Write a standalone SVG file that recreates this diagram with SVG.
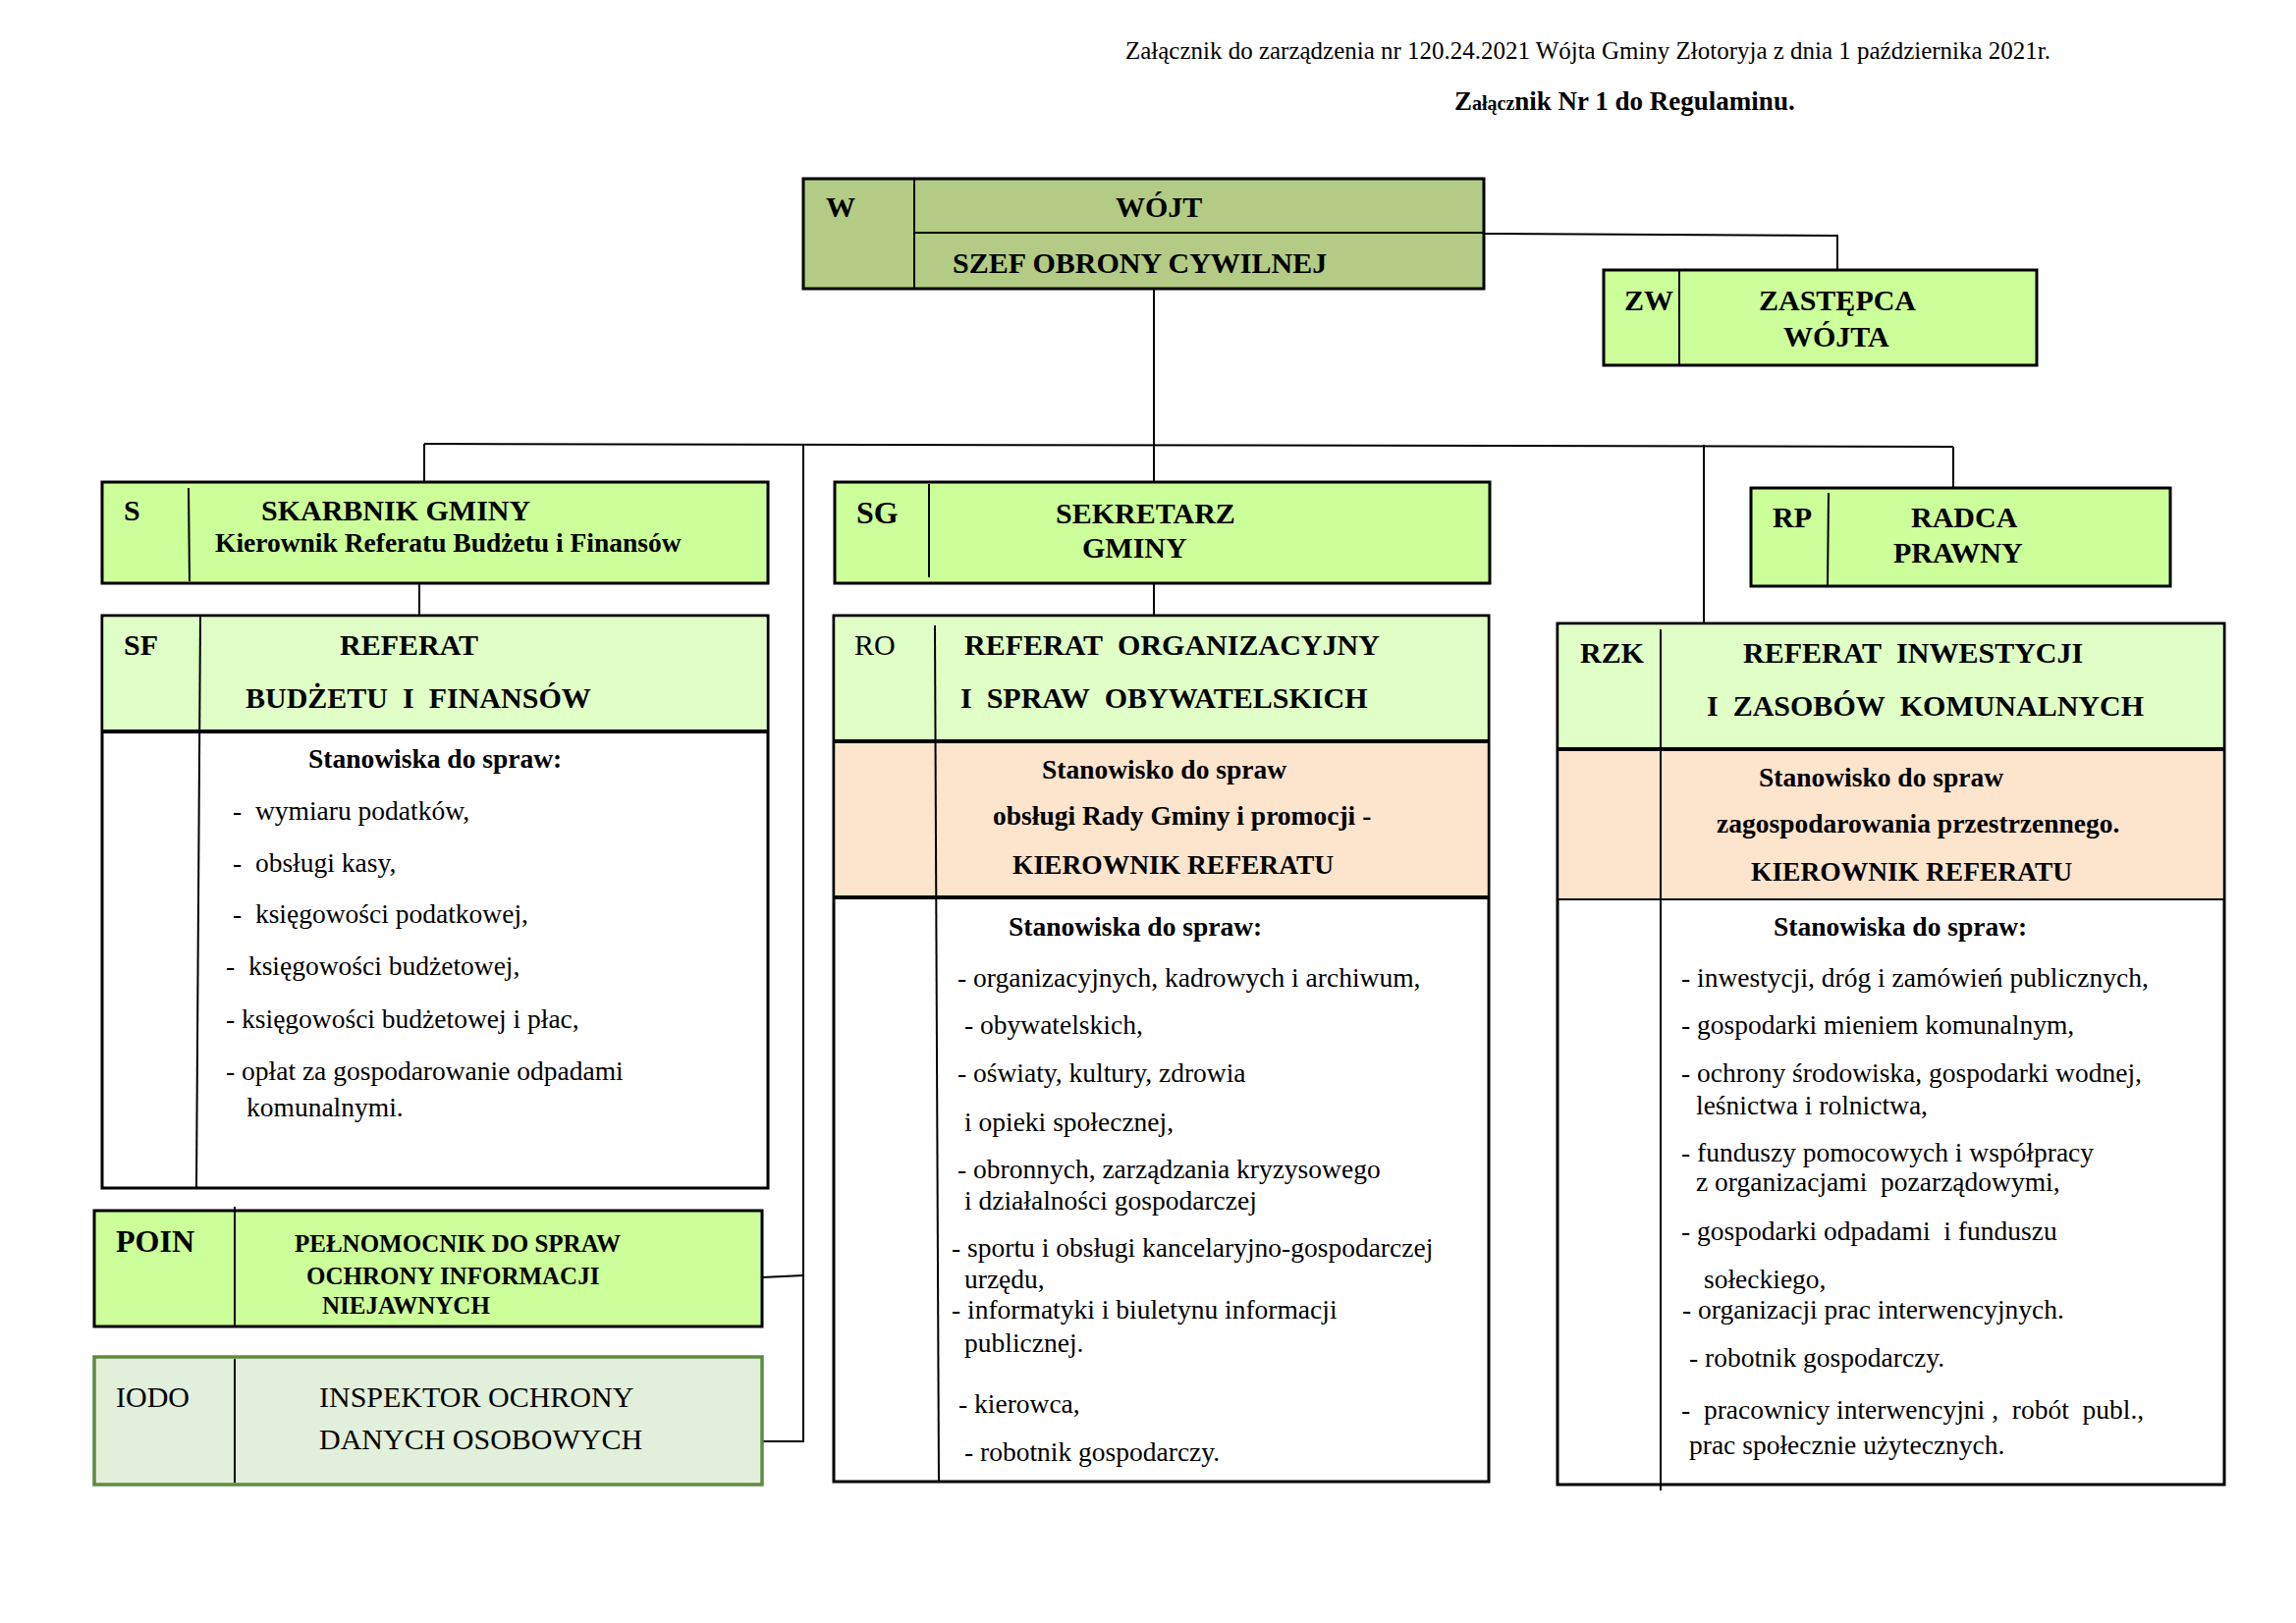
<svg xmlns="http://www.w3.org/2000/svg" width="2338" height="1653" viewBox="0 0 2338 1653">
<style>
text{font-family:"Liberation Serif","Times New Roman",serif;fill:#000;white-space:pre}
.b{font-weight:bold}
.s25{font-size:25px}
.s27{font-size:27.5px}
.s30{font-size:30px}
.s32{font-size:32px}
.box{stroke:#000;stroke-width:3}
.div{stroke:#000;stroke-width:2;fill:none}
.thick{stroke:#000;stroke-width:4;fill:none}
.g1{fill:#CCFF99}
.g2{fill:#DFFFC6}
.g0{fill:#B3CB84}
.or{fill:#FCE4CD}
.wh{fill:#FFFFFF}
.con{stroke:#000;stroke-width:2;fill:none}
</style>
<rect width="2338" height="1653" fill="#fff"/>
<g id="header">
<text class="s25" x="1146" y="60" textLength="942" lengthAdjust="spacingAndGlyphs">Załącznik do zarządzenia nr 120.24.2021 Wójta Gminy Złotoryja z dnia 1 października 2021r.</text>
<text class="b" x="1481" y="112" style="font-size:27px">Z<tspan style="font-size:20px">ałącz</tspan>nik Nr 1 do Regulaminu.</text>
</g>
<g id="connectors">
<polyline class="con" points="1511,238 1871,240 1871,275"/>
<line class="con" x1="1175" y1="294" x2="1175" y2="491"/>
<line class="con" x1="432" y1="452" x2="1989" y2="455"/>
<line class="con" x1="432" y1="452" x2="432" y2="491"/>
<line class="con" x1="1989" y1="455" x2="1989" y2="497"/>
<line class="con" x1="1735" y1="453" x2="1735" y2="635"/>
<line class="con" x1="818" y1="453" x2="818" y2="1469"/>
<line class="con" x1="776" y1="1301" x2="818" y2="1299"/>
<line class="con" x1="776" y1="1468" x2="818" y2="1468"/>
<line class="con" x1="427" y1="594" x2="427" y2="627"/>
<line class="con" x1="1175" y1="594" x2="1175" y2="627"/>
</g>
<g id="W">
<rect class="box g0" x="818" y="182" width="693" height="112"/>
<line class="div" x1="931" y1="182" x2="931" y2="294"/>
<line class="div" x1="931" y1="237" x2="1511" y2="237"/>
<text class="b s30" x="841" y="221">W</text>
<text class="b s30" x="1136" y="221">WÓJT</text>
<text class="b s30" x="970" y="278">SZEF OBRONY CYWILNEJ</text>
</g>
<g id="ZW">
<rect class="box g1" x="1633" y="275" width="441" height="97"/>
<line class="div" x1="1710" y1="275" x2="1710" y2="372"/>
<text class="b s30" x="1654" y="316">ZW</text>
<text class="b s30" x="1791" y="316">ZASTĘPCA</text>
<text class="b s30" x="1816" y="353">WÓJTA</text>
</g>
<g id="S">
<rect class="box g1" x="104" y="491" width="678" height="103"/>
<line class="div" x1="192" y1="497" x2="193" y2="592"/>
<text class="b s30" x="126" y="530">S</text>
<text class="b s30" x="266" y="530">SKARBNIK GMINY</text>
<text class="b s27" x="219" y="562">Kierownik Referatu Budżetu i Finansów</text>
</g>
<g id="SF">
<rect class="box wh" x="104" y="627" width="678" height="583"/>
<rect class="g2" x="105.5" y="628.5" width="675" height="116"/>
<line class="thick" x1="104" y1="745" x2="782" y2="745"/>
<line class="div" x1="204" y1="627" x2="200" y2="1210"/>
<text class="b s30" x="126" y="667">SF</text>
<text class="b s30" x="346" y="667">REFERAT</text>
<text class="b s30" x="250" y="721">BUDŻETU&#160; I&#160; FINANSÓW</text>
<text class="b s27" x="314" y="782">Stanowiska do spraw:</text>
<text class="s27" x="237" y="835">-&#160; wymiaru podatków,</text>
<text class="s27" x="237" y="888">-&#160; obsługi kasy,</text>
<text class="s27" x="237" y="940">-&#160; księgowości podatkowej,</text>
<text class="s27" x="230" y="993">-&#160; księgowości budżetowej,</text>
<text class="s27" x="230" y="1047">- księgowości budżetowej i płac,</text>
<text class="s27" x="230" y="1100">- opłat za gospodarowanie odpadami</text>
<text class="s27" x="251" y="1137">komunalnymi.</text>
</g>
<g id="POIN">
<rect class="box g1" x="96" y="1233" width="680" height="118"/>
<line class="div" x1="239" y1="1229" x2="239" y2="1352"/>
<text class="b s32" x="118" y="1275">POIN</text>
<text class="b s25" x="300" y="1275">PEŁNOMOCNIK DO SPRAW</text>
<text class="b s25" x="312" y="1308">OCHRONY INFORMACJI</text>
<text class="b s25" x="328" y="1338">NIEJAWNYCH</text>
</g>
<g id="IODO">
<rect x="96" y="1382" width="680" height="130" fill="#E2EFDA" stroke="#5E8C3F" stroke-width="3.5"/>
<line class="div" x1="239" y1="1384" x2="239" y2="1510"/>
<text class="s30" x="118" y="1433">IODO</text>
<text class="s30" x="325" y="1433">INSPEKTOR OCHRONY</text>
<text class="s30" x="325" y="1476">DANYCH OSOBOWYCH</text>
</g>
<g id="SG">
<rect class="box g1" x="850" y="491" width="667" height="103"/>
<line class="div" x1="946" y1="493" x2="946" y2="588"/>
<text class="b s32" x="872" y="533">SG</text>
<text class="b s30" x="1075" y="533">SEKRETARZ</text>
<text class="b s30" x="1102" y="568">GMINY</text>
</g>
<g id="RO">
<rect class="box wh" x="849" y="627" width="667" height="882"/>
<rect class="g2" x="850.5" y="628.5" width="664" height="126"/>
<rect class="or" x="850.5" y="755" width="664" height="159"/>
<line class="thick" x1="849" y1="755" x2="1516" y2="755"/>
<line class="thick" x1="849" y1="914" x2="1516" y2="914"/>
<line class="div" x1="952" y1="637" x2="956" y2="1509"/>
<text class="s30" x="870" y="667">RO</text>
<text class="b s30" x="982" y="667">REFERAT&#160; ORGANIZACYJNY</text>
<text class="b s30" x="978" y="721">I&#160; SPRAW&#160; OBYWATELSKICH</text>
<text class="b s27" x="1061" y="793">Stanowisko do spraw</text>
<text class="b s27" x="1011" y="840">obsługi Rady Gminy i promocji -</text>
<text class="b s27" x="1031" y="890">KIEROWNIK REFERATU</text>
<text class="b s27" x="1027" y="953">Stanowiska do spraw:</text>
<text class="s27" x="975" y="1005">- organizacyjnych, kadrowych i archiwum,</text>
<text class="s27" x="982" y="1053">- obywatelskich,</text>
<text class="s27" x="975" y="1102">- oświaty, kultury, zdrowia</text>
<text class="s27" x="982" y="1152">i opieki społecznej,</text>
<text class="s27" x="975" y="1200">- obronnych, zarządzania kryzysowego</text>
<text class="s27" x="982" y="1232">i działalności gospodarczej</text>
<text class="s27" x="969" y="1280">- sportu i obsługi kancelaryjno-gospodarczej</text>
<text class="s27" x="982" y="1312">urzędu,</text>
<text class="s27" x="969" y="1343">- informatyki i biuletynu informacji</text>
<text class="s27" x="982" y="1377">publicznej.</text>
<text class="s27" x="976" y="1439">- kierowca,</text>
<text class="s27" x="982" y="1488">- robotnik gospodarczy.</text>
</g>
<g id="RP">
<rect class="box g1" x="1783" y="497" width="427" height="100"/>
<line class="div" x1="1862" y1="502" x2="1861" y2="597"/>
<text class="b s30" x="1805" y="537">RP</text>
<text class="b s30" x="1946" y="537">RADCA</text>
<text class="b s30" x="1928" y="573">PRAWNY</text>
</g>
<g id="RZK">
<rect class="box wh" x="1586" y="635" width="679" height="877"/>
<rect class="g2" x="1587.5" y="636.5" width="676" height="126"/>
<rect class="or" x="1587.5" y="763" width="676" height="153"/>
<line class="thick" x1="1586" y1="763" x2="2265" y2="763"/>
<line class="div" x1="1586" y1="916" x2="2265" y2="916"/>
<line class="div" x1="1691" y1="641" x2="1691" y2="1518"/>
<text class="b s30" x="1609" y="675">RZK</text>
<text class="b s30" x="1775" y="675">REFERAT&#160; INWESTYCJI</text>
<text class="b s30" x="1738" y="729">I&#160; ZASOBÓW&#160; KOMUNALNYCH</text>
<text class="b s27" x="1791" y="801">Stanowisko do spraw</text>
<text class="b s27" x="1748" y="848">zagospodarowania przestrzennego.</text>
<text class="b s27" x="1783" y="897">KIEROWNIK REFERATU</text>
<text class="b s27" x="1806" y="953">Stanowiska do spraw:</text>
<text class="s27" x="1712" y="1005">- inwestycji, dróg i zamówień publicznych,</text>
<text class="s27" x="1712" y="1053">- gospodarki mieniem komunalnym,</text>
<text class="s27" x="1712" y="1102">- ochrony środowiska, gospodarki wodnej,</text>
<text class="s27" x="1727" y="1135">leśnictwa i rolnictwa,</text>
<text class="s27" x="1712" y="1183">- funduszy pomocowych i współpracy</text>
<text class="s27" x="1727" y="1213">z organizacjami&#160; pozarządowymi,</text>
<text class="s27" x="1712" y="1263">- gospodarki odpadami&#160; i funduszu</text>
<text class="s27" x="1735" y="1312">sołeckiego,</text>
<text class="s27" x="1713" y="1343">- organizacji prac interwencyjnych.</text>
<text class="s27" x="1720" y="1392">- robotnik gospodarczy.</text>
<text class="s27" x="1712" y="1445">-&#160; pracownicy interwencyjni ,&#160; robót&#160; publ.,</text>
<text class="s27" x="1720" y="1481">prac społecznie użytecznych.</text>
</g>
</svg>
